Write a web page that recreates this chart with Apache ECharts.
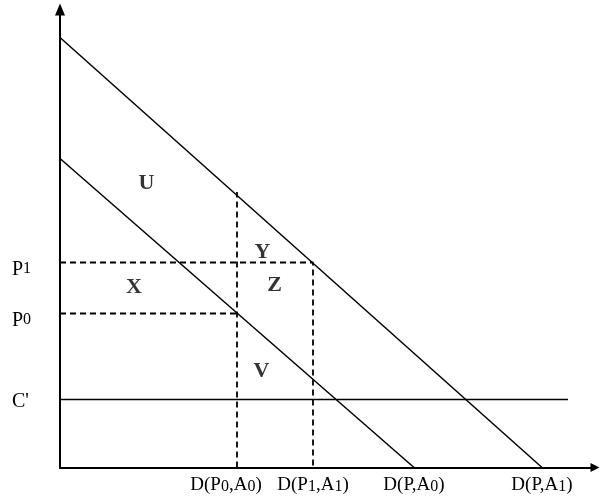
<!DOCTYPE html>
<html><head><meta charset="utf-8">
<script src="https://cdn.jsdelivr.net/npm/echarts@6/dist/echarts.min.js"></script>
<style>html,body{margin:0;padding:0;background:#fff}#c{width:600px;height:504px}</style>
</head><body><div id="c"></div>
<script>
// Demand curves and cost line (quantity, price) in chart units
const demandA1 = [[0, 430], [482, 0]];
const demandA0 = [[0, 309], [354, 0]];
const costLine = [[0, 68], [508, 68]];
// Price levels on the vertical axis
const priceLevels = [68, 154, 205];
const priceLabels = ["C'", 'P_0', 'P_1'];
// Quantity levels on the horizontal axis
const quantityLevels = [177, 253, 354, 482];
const quantityLabels = ['D(P_0,A_0)', 'D(P_1,A_1)', 'D(P,A_0)', 'D(P,A_1)'];
// Dashed guide lines
const dashP1 = [[0, 205], [253, 205], [253, 0]];
const dashP0 = [[0, 154], [177, 154]];
const dashQ0 = [[177, 0], [177, 275.5]];
// Region names and their centres
const regionNames = ['U', 'X', 'Y', 'Z', 'V'];
const regionPoints = [[86.5, 284.5], [74, 180.5], [202.5, 215], [214.5, 182], [201.5, 96.5]];

const FONT = 'Liberation Serif';
function toRich(s) {
  return s.split(/_(\w)/).map((p, i) => p === '' ? '' : (i % 2 ? '{s|' + p + '}' : '{m|' + p + '}')).join('');
}
const chart = echarts.init(document.getElementById('c'), null, {renderer: 'canvas'});
const black = '#000';
function lineSeries(data, dashed, width) {
  return {
    type: 'line', data: data, symbol: 'none', silent: true,
    lineStyle: {color: black, width: width, type: dashed ? [6, 4] : 'solid'}
  };
}
const option = {
  animation: false,
  backgroundColor: '#fff',
  grid: {left: 60, right: 5, top: 9.5, bottom: 36.5},
  xAxis: {
    type: 'value', min: 0, max: 535,
    axisLine: {lineStyle: {color: black, width: 2}, symbol: ['none', 'triangle'], symbolSize: [9, 9]},
    axisTick: {show: false}, splitLine: {show: false},
    axisLabel: {
      customValues: quantityLevels, margin: 8, color: black,
      formatter: function (v) {
        const i = quantityLevels.indexOf(v);
        let t = toRich(quantityLabels[i]);
        if (i === 0) t += '{gap| }';
        return t;
      },
      rich: {
        m: {fontFamily: FONT, fontSize: 19, color: black, lineHeight: 19},
        s: {fontFamily: FONT, fontSize: 16, color: black, lineHeight: 12, verticalAlign: 'bottom'},
        gap: {width: 22, fontSize: 10}
      }
    }
  },
  yAxis: {
    type: 'value', min: 0, max: 458,
    axisLine: {lineStyle: {color: black, width: 2}, symbol: ['none', 'triangle'], symbolSize: [10, 12]},
    axisTick: {show: false}, splitLine: {show: false},
    axisLabel: {
      customValues: priceLevels, margin: 48, align: 'left', verticalAlign: 'top', color: black,
      formatter: function (v) {
        const i = priceLevels.indexOf(v);
        const lab = priceLabels[i];
        if (lab.indexOf('_') < 0) return '{c|' + lab + '}';
        return toRich(lab);
      },
      rich: {
        m: {fontFamily: FONT, fontSize: 20, color: black, lineHeight: 14},
        s: {fontFamily: FONT, fontSize: 16, color: black, lineHeight: 4, verticalAlign: 'bottom'},
        c: {fontFamily: FONT, fontSize: 20, color: black, lineHeight: 4}
      }
    }
  },
  series: [
    lineSeries(demandA1, false, 1.5),
    lineSeries(demandA0, false, 1.5),
    lineSeries(costLine, false, 1.5),
    lineSeries(dashP1, true, 1.8),
    lineSeries(dashP0, true, 1.8),
    lineSeries(dashQ0, true, 1.8),
    {
      type: 'scatter', silent: true, symbolSize: 1,
      itemStyle: {color: 'rgba(0,0,0,0)'},
      data: regionPoints.map((p, i) => ({value: p, name: regionNames[i]})),
      label: {
        show: true, position: 'inside', formatter: '{b}',
        fontFamily: FONT, fontWeight: 'bold', fontSize: 22, color: black
      }
    }
  ]
};
chart.setOption(option);
</script>
</body></html>
